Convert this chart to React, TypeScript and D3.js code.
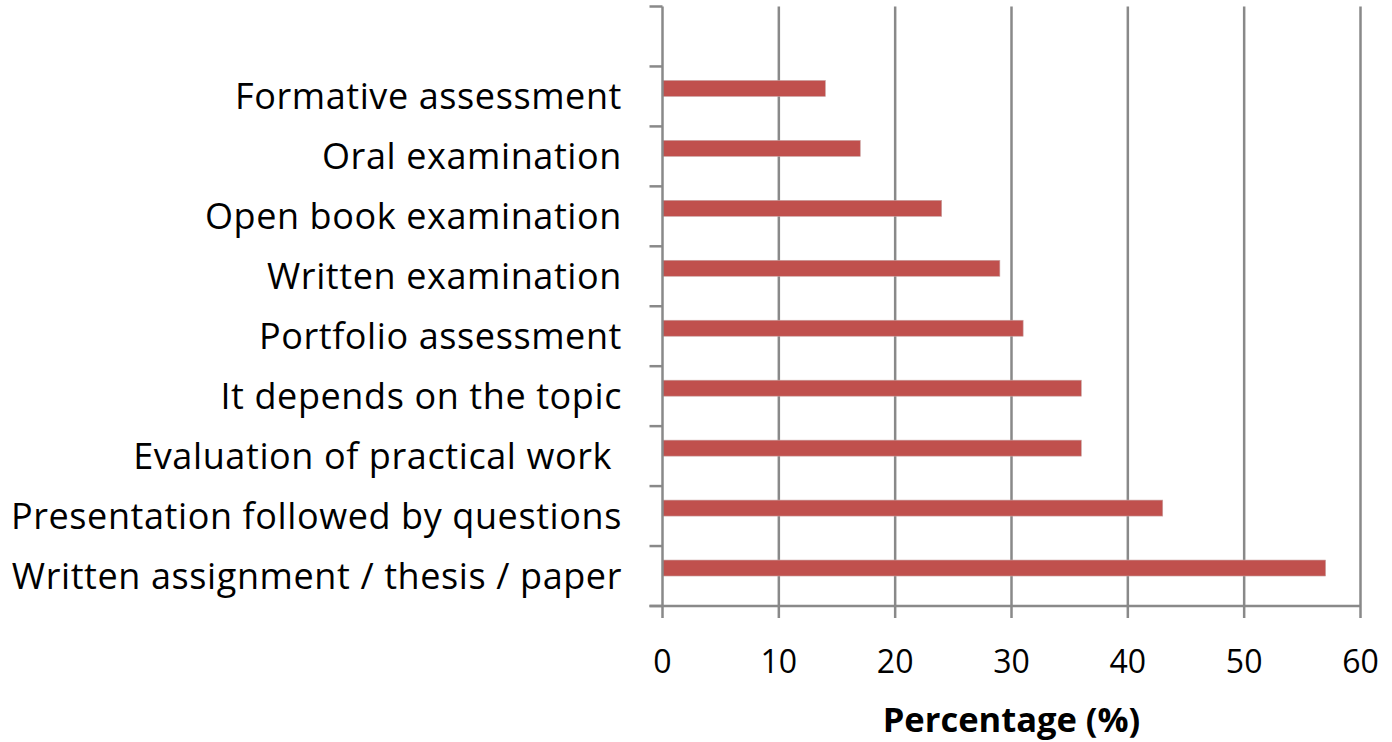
import React, { useEffect } from "react";
import * as d3 from "d3";

const categories = [
  "",
  "Formative assessment",
  "Oral examination",
  "Open book examination",
  "Written examination",
  "Portfolio assessment",
  "It depends on the topic",
  "Evaluation of practical work ",
  "Presentation followed by questions",
  "Written assignment / thesis / paper",
];
const values: (number | null)[] = [null, 14, 17, 24, 29, 31, 36, 36, 43, 57];
const xTicks = [0, 10, 20, 30, 40, 50, 60];
const xTitle = "Percentage (%)";

const W = 1392;
const H = 742;
const left = 662.5;
const right = 1360.5;
const top = 6.5;
const bottom = 606;
const FONT = "'Open Sans', sans-serif";
const GRID = "#898989";
const BAR = "#C0504D";

export default function App() {
  useEffect(() => {
    document.body.style.margin = "0";
  }, []);
  const x = d3.scaleLinear().domain([0, 60]).range([left, right]);
  const y = d3.scaleBand<string>().domain(categories.map((c, i) => String(i))).range([top, bottom]).padding(0);
  const bw = y.bandwidth();
  // two-slot cluster: this series occupies the first slot of an Excel-like clustered band
  const inner = d3.scaleBand<string>().domain(["s1", "s2"]).range([0, bw]).paddingOuter(0.875).paddingInner(0);
  const boundaries = d3.range(categories.length + 1).map((i) => top + i * bw);

  return (
    <svg width={W} height={H} style={{ position: "absolute", left: 0, top: 0, background: "#fff" }}>
      {xTicks.slice(1).map((t) => (
        <line key={"g" + t} x1={x(t)} x2={x(t)} y1={top} y2={bottom + 12} stroke={GRID} strokeWidth={2.5} />
      ))}
      {values.map((v, i) =>
        v == null ? null : (
          <rect
            key={"b" + i}
            x={x(0)}
            y={(y(String(i)) as number) + (inner("s1") as number)}
            width={x(v) - x(0)}
            height={inner.bandwidth()}
            fill={BAR}
            stroke="#c9a3a2"
            strokeWidth={0.6}
          />
        )
      )}
      <line x1={left} x2={left} y1={top} y2={bottom + 12} stroke={GRID} strokeWidth={2.5} />
      {boundaries.map((b, i) => (
        <line key={"yt" + i} x1={left - 13} x2={left} y1={b} y2={b} stroke={GRID} strokeWidth={2.5} />
      ))}
      <line x1={left - 13} x2={right} y1={bottom} y2={bottom} stroke={GRID} strokeWidth={2.5} />
      {categories.map((c, i) => (
        <text
          key={"c" + i}
          x={622}
          y={(y(String(i)) as number) + bw / 2}
          dy="0.36em"
          textAnchor="end"
          fontFamily={FONT}
          fontSize={36}
          letterSpacing={0.6}
          fill="#000"
          style={{ whiteSpace: "pre" }}
        >
          {c}
        </text>
      ))}
      {xTicks.map((t) => (
        <text key={"xt" + t} x={x(t)} y={673} textAnchor="middle" fontFamily={FONT} fontSize={32} fill="#000">
          {t}
        </text>
      ))}
      <text x={(left + right) / 2} y={732} textAnchor="middle" fontFamily={FONT} fontSize={34.5} fontWeight="bold" fill="#000">
        {xTitle}
      </text>
    </svg>
  );
}
